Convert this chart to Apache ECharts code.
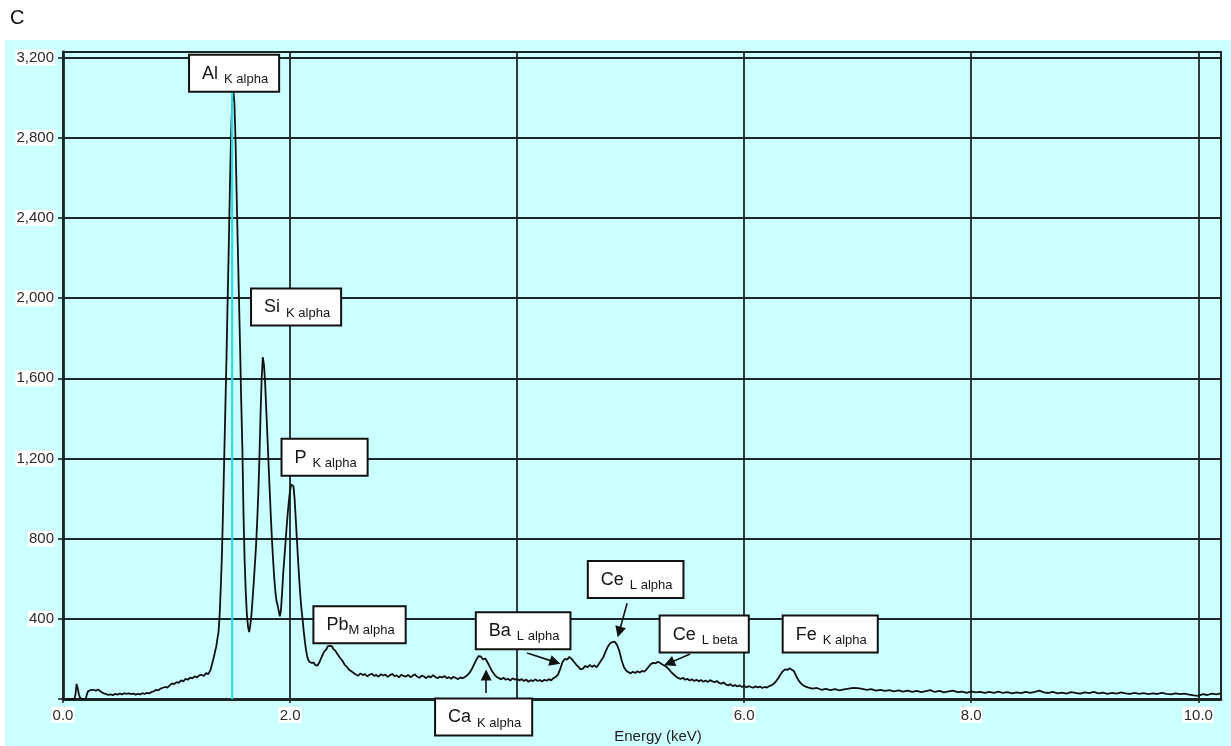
<!DOCTYPE html>
<html>
<head>
<meta charset="utf-8">
<title>EDS spectrum</title>
<script src="https://cdn.jsdelivr.net/npm/echarts@6/dist/echarts.min.js"></script>
<style>
  html, body { margin: 0; padding: 0; background: #ffffff; }
  #chart { width: 1231px; height: 746px; }
</style>
</head>
<body>
<div id="chart"></div>
<script>
// ---- Spectrum, as [energy keV, counts] pairs, split by region ----
const lowEnergy = [
  [0.00,0],[0.10,0],[0.11,22],[0.12,75],[0.13,52],[0.14,24],[0.15,6],[0.17,0],[0.20,0],
  [0.21,22],[0.22,38],[0.23,33],[0.24,44],[0.25,40],[0.27,46],[0.29,41],[0.31,47],[0.32,43],
  [0.34,34],[0.36,28],[0.38,24],[0.40,20],[0.42,23],[0.44,19],[0.46,26],[0.48,22],[0.50,27],
  [0.52,23],[0.54,29],[0.56,25],[0.58,28],[0.60,24],[0.62,27],[0.64,22],[0.66,26],[0.68,23],
  [0.70,29],[0.72,25],[0.74,31],[0.76,28],[0.78,35],[0.80,38],[0.82,46],[0.84,43],[0.86,52],
  [0.88,56],[0.90,60],[0.92,57],[0.94,68],[0.96,78],[0.98,74],[1.00,84],[1.02,81],[1.04,93],
  [1.06,88],[1.08,101],[1.10,96],[1.12,107],[1.14,103],[1.16,113],[1.18,108],[1.20,118],
  [1.22,121],[1.24,115],[1.26,129],[1.28,124],[1.30,145],[1.31,168],[1.32,190],[1.33,212],
  [1.34,238],[1.35,262],[1.36,300],[1.37,335]
];
const alPeak = [
  [1.38,420],[1.39,560],[1.40,720],[1.41,950],[1.42,1200],[1.43,1450],[1.44,1700],[1.45,1980],
  [1.46,2250],[1.47,2550],[1.48,2800],[1.49,2980],[1.50,3045],[1.51,2970],[1.52,2780],
  [1.53,2500],[1.54,2250],[1.55,2000],[1.56,1750],[1.57,1480],[1.58,1250],[1.59,920],
  [1.60,690],[1.61,530],[1.62,420],[1.63,360],[1.64,334]
];
const siPeak = [
  [1.65,370],[1.66,420],[1.67,500],[1.68,580],[1.69,670],[1.70,760],[1.71,880],[1.72,1020],
  [1.73,1200],[1.74,1420],[1.75,1600],[1.76,1705],[1.77,1670],[1.78,1580],[1.79,1450],
  [1.80,1320],[1.81,1180],[1.82,1050],[1.83,920],[1.84,800],[1.85,700],[1.86,610],[1.87,540],
  [1.88,490],[1.89,470],[1.90,440],[1.91,412]
];
const pPeak = [
  [1.92,445],[1.93,530],[1.94,630],[1.95,705],[1.96,780],[1.97,860],[1.98,930],[1.99,990],
  [2.00,1040],[2.01,1070],[2.02,1077],[2.03,1062],[2.04,1000],[2.05,900],[2.06,800],[2.07,700],
  [2.08,605],[2.09,520],[2.10,450],[2.11,400],[2.12,340],[2.13,290],[2.14,248],[2.15,215],
  [2.16,196],[2.17,186],[2.18,190],[2.19,180],[2.20,176],[2.21,182],[2.22,170],[2.23,172],[2.24,166]
];
const pbPeak = [
  [2.26,185],[2.28,212],[2.30,236],[2.32,248],[2.33,262],[2.34,255],[2.35,265],[2.36,258],
  [2.37,262],[2.38,250],[2.40,240],[2.42,222],[2.44,206],[2.46,192],[2.48,172],[2.50,160],
  [2.52,146],[2.54,138],[2.56,130]
];
const midBaseline = [
  [2.58,122],[2.60,116],[2.62,128],[2.64,119],[2.66,124],[2.68,113],[2.70,121],[2.72,126],
  [2.74,115],[2.76,120],[2.78,111],[2.80,124],[2.82,117],[2.84,122],[2.86,110],[2.88,119],
  [2.90,125],[2.92,114],[2.94,118],[2.96,108],[2.98,121],[3.00,115],[3.02,112],[3.04,120],
  [3.06,109],[3.08,116],[3.10,123],[3.12,111],[3.14,106],[3.16,117],[3.18,112],[3.20,104],
  [3.22,114],[3.24,108],[3.26,119],[3.28,110],[3.30,103],[3.32,112],[3.34,107],[3.36,115],
  [3.38,104],[3.40,109],[3.42,101],[3.44,111],[3.46,105],[3.48,99],[3.50,108],[3.52,103],[3.54,110]
];
const caPeak = [
  [3.56,118],[3.58,130],[3.60,148],[3.62,172],[3.64,195],[3.66,214],[3.67,205],[3.68,212],
  [3.70,198],[3.72,202],[3.74,182],[3.76,160],[3.78,138],[3.80,122],[3.82,110],[3.84,104]
];
const caBaBaseline = [
  [3.86,98],[3.88,106],[3.90,96],[3.92,101],[3.94,92],[3.96,103],[3.98,97],[4.00,100],
  [4.02,93],[4.04,99],[4.06,90],[4.08,97],[4.10,86],[4.12,94],[4.14,89],[4.16,98],[4.18,90],
  [4.20,95],[4.22,87],[4.24,96],[4.26,91],[4.28,99],[4.30,93],[4.32,104],[4.34,110]
];
const baCePeaks = [
  [4.36,122],[4.38,150],[4.40,185],[4.42,200],[4.44,196],[4.46,210],[4.48,200],[4.50,186],
  [4.52,172],[4.54,160],[4.56,148],[4.58,152],[4.60,165],[4.62,158],[4.64,170],[4.66,160],
  [4.68,168],[4.70,158],[4.72,175],[4.74,192],[4.76,210],[4.78,238],[4.80,262],[4.82,278],
  [4.84,284],[4.86,286],[4.88,270],[4.90,240],[4.92,195],[4.94,160],[4.96,142],[4.98,134],
  [5.00,128],[5.02,136],[5.04,130],[5.06,138],[5.08,132],[5.10,140],[5.12,136],[5.14,148],
  [5.16,162],[5.18,175],[5.20,180],[5.22,178],[5.24,186],[5.26,180],[5.28,172],[5.30,166],
  [5.32,158],[5.34,146],[5.36,132],[5.38,122],[5.40,112],[5.42,104]
];
const ceFeBaseline = [
  [5.44,100],[5.46,106],[5.48,96],[5.50,101],[5.52,92],[5.54,98],[5.56,90],[5.58,96],
  [5.60,88],[5.62,95],[5.64,86],[5.66,92],[5.68,85],[5.70,94],[5.72,88],[5.74,84],[5.76,90],
  [5.78,80],[5.80,76],[5.82,83],[5.84,72],[5.86,68],[5.88,74],[5.90,64],[5.92,70],[5.94,62],
  [5.96,68],[5.98,60],[6.00,66],[6.02,58],[6.04,64],[6.06,60],[6.08,56],[6.10,63],[6.12,58],
  [6.14,62],[6.16,55],[6.18,60],[6.20,57],[6.22,64],[6.24,68],[6.26,76]
];
const fePeak = [
  [6.28,88],[6.30,104],[6.32,122],[6.34,138],[6.36,148],[6.38,145],[6.40,153],[6.42,146],
  [6.44,138],[6.46,112],[6.48,92],[6.50,78],[6.52,68],[6.54,62]
];
const highEnergyTail = [
  [6.56,58],[6.60,52],[6.64,55],[6.68,46],[6.72,50],[6.76,44],[6.80,49],[6.84,43],[6.88,48],
  [6.92,52],[6.96,56],[7.00,54],[7.04,50],[7.08,46],[7.12,49],[7.16,42],[7.20,46],[7.24,40],
  [7.28,44],[7.32,38],[7.36,43],[7.40,37],[7.44,42],[7.48,36],[7.52,40],[7.56,34],[7.60,39],
  [7.64,44],[7.68,35],[7.72,40],[7.76,33],[7.80,38],[7.84,42],[7.88,34],[7.92,37],[7.96,31],
  [8.00,38],[8.04,33],[8.08,36],[8.12,30],[8.16,35],[8.20,31],[8.24,37],[8.28,30],[8.32,34],
  [8.36,28],[8.40,33],[8.44,29],[8.48,35],[8.52,31],[8.56,36],[8.60,42],[8.64,33],[8.68,30],
  [8.72,35],[8.76,28],[8.80,32],[8.84,27],[8.88,34],[8.92,30],[8.96,27],[9.00,33],[9.04,29],
  [9.08,35],[9.12,28],[9.16,32],[9.20,26],[9.24,31],[9.28,27],[9.32,33],[9.36,28],[9.40,25],
  [9.44,30],[9.48,26],[9.52,29],[9.56,24],[9.60,28],[9.64,25],[9.68,30],[9.72,26],[9.76,23],
  [9.80,28],[9.84,24],[9.88,27],[9.92,22],[9.96,18],[10.00,16],[10.04,24],[10.08,20],
  [10.12,27],[10.16,23],[10.20,28]
];

// ---- Axis ticks ----
const energyTicks = [0, 2, 4, 6, 8, 10];          // keV
const countTicks = [0, 400, 800, 1200, 1600, 2000, 2400, 2800, 3200];

// ---- Peak identifications: element, line ----
const peakElements = ['Al', 'Si', 'P', 'Pb', 'Ca', 'Ba', 'Ce', 'Ce', 'Fe'];
const peakLines = ['K alpha', 'K alpha', 'K alpha', 'M alpha', 'K alpha', 'L alpha', 'L alpha', 'L beta', 'K alpha'];

// Al K alpha line energy (keV) marked by the vertical reference line
const alKAlphaKeV = 1.49;

// ---------------------------------------------------------------
const spectrum = [].concat(lowEnergy, alPeak, siPeak, pPeak, pbPeak, midBaseline, caPeak,
  caBaBaseline, baCePeaks, ceFeBaseline, fePeak, highEnergyTail);

const FONT = "'Liberation Sans', Arial, Helvetica, sans-serif";
const INK = '#1b2626';
const BG = '#ccffff';

// label box centres in data units [keV, counts]; Ca sits under the axis (pixel offset)
const labelAnchors = [
  { coord: [1.507, 3122] },
  { coord: [2.053, 1956] },
  { coord: [2.304, 1206] },
  { coord: [2.612, 371] },
  { coord: [3.705, 0], offset: [0, 18] },
  { coord: [4.053, 341] },
  { coord: [5.044, 596] },
  { coord: [5.648, 324] },
  { coord: [6.758, 324] }
];

// arrows from labels to their peaks: [from, to] in data units
const arrowPaths = [
  [[4.088, 229], [4.335, 184]],   // Ba L alpha
  [[3.727, 30], [3.727, 120]],    // Ca K alpha
  [[4.969, 478], [4.899, 334]],   // Ce L alpha
  [[5.524, 224], [5.339, 179]]    // Ce L beta
];

const markPoints = peakElements.map((el, i) => {
  const a = labelAnchors[i];
  const tight = el === 'Pb';
  return {
    coord: a.coord,
    label: {
      show: true,
      position: 'inside',
      offset: a.offset || [0, 0],
      formatter: '{m|' + el + (tight ? '' : ' ') + '}{s|' + peakLines[i] + '}',
      backgroundColor: '#ffffff',
      borderColor: '#111111',
      borderWidth: 2,
      padding: [6, 10, 5, 12],
      rich: {
        m: { fontFamily: FONT, fontSize: 18, color: '#151515', lineHeight: 24, verticalAlign: 'middle', padding: [0, tight ? 0 : 1, 0, 0] },
        s: { fontFamily: FONT, fontSize: 13, color: '#151515', lineHeight: 12, verticalAlign: 'bottom' }
      }
    }
  };
});

const chart = echarts.init(document.getElementById('chart'), null, { renderer: 'canvas' });

const fmtCount = v => (v === 0 || v % 400 !== 0) ? '' : v.toLocaleString('en-US');
const fmtEnergy = v => (energyTicks.indexOf(v) < 0) ? '' : v.toFixed(1);

chart.setOption({
  animation: false,
  backgroundColor: '#ffffff',
  textStyle: { fontFamily: FONT },
  graphic: [
    { type: 'rect', z: -10, silent: true, shape: { x: 5, y: 40, width: 1226, height: 706 }, style: { fill: BG } },
    { type: 'text', left: 10, top: 8, silent: true, style: { text: 'C', font: '20px ' + FONT, fill: '#111' } },
    { type: 'text', x: 658, y: 737, silent: true, style: { text: 'Energy (keV)', font: '15px ' + FONT, fill: '#222', align: 'center', verticalAlign: 'middle' } }
  ],
  grid: { left: 63, right: 10, top: 52, bottom: 47, show: true, backgroundColor: 'transparent', borderColor: INK, borderWidth: 1.8 },
  xAxis: {
    type: 'value',
    min: energyTicks[0],
    max: 10.2,
    interval: energyTicks[1] - energyTicks[0],
    axisLine: { show: true, onZero: false, lineStyle: { color: INK, width: 2.8 } },
    axisTick: { show: true, length: 4, lineStyle: { color: INK, width: 1.6 } },
    axisLabel: { show: true, margin: 8, showMaxLabel: false, formatter: fmtEnergy, fontSize: 15, color: '#2a2a2a', backgroundColor: '#ffffff', padding: [1, 1, 0, 1] },
    splitLine: { show: true, lineStyle: { color: INK, width: 1.8 } }
  },
  yAxis: {
    type: 'value',
    min: countTicks[0],
    max: 3228,
    interval: countTicks[1] - countTicks[0],
    axisLine: { show: true, lineStyle: { color: INK, width: 2.8 } },
    axisTick: { show: true, length: 5, lineStyle: { color: INK, width: 1.6 } },
    axisLabel: { show: true, margin: 8, showMaxLabel: false, formatter: fmtCount, fontSize: 15, color: '#2a2a2a', backgroundColor: '#ffffff', padding: [1, 1, 0, 1] },
    splitLine: { show: true, lineStyle: { color: INK, width: 1.8 } }
  },
  series: [
    {
      name: 'Al K alpha position',
      type: 'line',
      data: [[alKAlphaKeV, 0], [alKAlphaKeV, 3030]],
      showSymbol: false,
      silent: true,
      z: 4,
      lineStyle: { color: '#2fdce0', width: 2.2 }
    },
    {
      name: 'Spectrum',
      type: 'line',
      data: spectrum,
      showSymbol: false,
      silent: true,
      z: 3,
      lineStyle: { color: '#111111', width: 1.8 },
      markLine: {
        silent: true,
        symbol: ['none', 'triangle'],
        symbolSize: 11,
        label: { show: false },
        lineStyle: { color: '#111111', width: 1.6, type: 'solid' },
        data: arrowPaths.map(p => [{ coord: p[0] }, { coord: p[1] }])
      },
      markPoint: {
        silent: true,
        symbol: 'rect',
        symbolSize: 1,
        itemStyle: { color: 'rgba(0,0,0,0)' },
        data: markPoints
      }
    }
  ]
});
</script>
</body>
</html>
